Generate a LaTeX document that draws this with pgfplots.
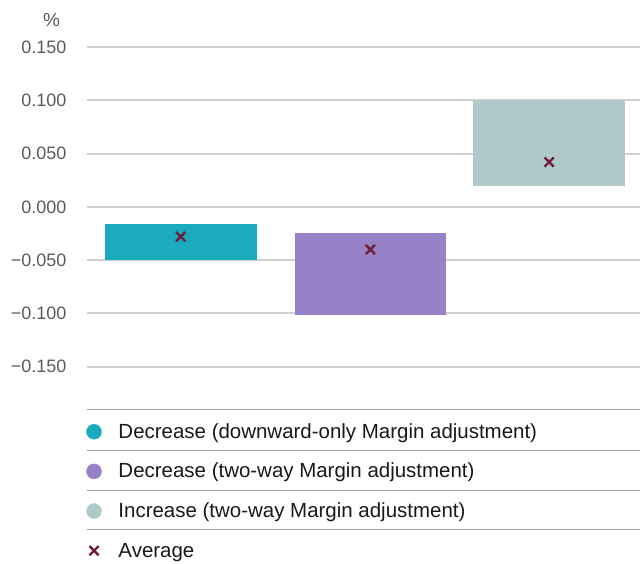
\documentclass[border=0pt]{standalone}
\usepackage{pgfplots}
\pgfplotsset{compat=1.18}
\usepackage{fontspec}
\setmainfont{Liberation Sans}
\definecolor{cteal}{HTML}{1AABBF}
\definecolor{cpurple}{HTML}{9782C8}
\definecolor{cgrey}{HTML}{B0C9C9}
\definecolor{cmaroon}{HTML}{6E1F3B}
\definecolor{cgrid}{HTML}{D0D0D0}
\definecolor{ctick}{HTML}{5A5A5A}
\definecolor{csep}{HTML}{A0A0A0}
\begin{document}
\begin{tikzpicture}[x=1pt,y=1pt]
\begin{axis}[
  scale only axis,
  width=554pt, height=363pt,
  xmin=0, xmax=554,
  ymin=-0.190, ymax=0.150,
  clip=false,
  axis line style={draw=none},
  xtick=\empty,
  ytick={-0.15,-0.1,-0.05,0,0.05,0.1,0.15},
  yticklabels={−0.150,−0.100,−0.050,0.000,0.050,0.100,0.150},
  ytick style={draw=none},
  yticklabel style={font=\fontsize{18}{20}\selectfont, text=ctick, anchor=east, xshift=-17pt},
  ymajorgrids,
  grid style={cgrid, line width=2pt},
  legend style={at={(axis description cs:-0.0009,-0.0405)}, anchor=north west,
    draw=none, fill=none, inner sep=0pt, column sep=17pt, row sep=21.7pt,
    font=\fontsize{20.5}{22}\selectfont,
    nodes={inner sep=0pt, text height=14pt, text depth=4pt, text=black!90}},
  legend image post style={yshift=1.5pt},
  legend cell align=left,
]
% floating bars
\addplot[draw=none, fill=cteal, forget plot] coordinates {(18,-0.050) (170,-0.050) (170,-0.016) (18,-0.016)} -- cycle;
\addplot[draw=none, fill=cpurple, forget plot] coordinates {(208,-0.101) (360,-0.101) (360,-0.025) (208,-0.025)} -- cycle;
\addplot[draw=none, fill=cgrey, forget plot] coordinates {(387,0.020) (539,0.020) (539,0.100) (387,0.100)} -- cycle;
% legend images
\addlegendimage{only marks, mark=*, mark size=7.5pt, color=cteal, mark options={draw=cteal, fill=cteal}}
\addlegendentry{Decrease (downward-only Margin adjustment)}
\addlegendimage{only marks, mark=*, mark size=7.5pt, color=cpurple, mark options={draw=cpurple, fill=cpurple}}
\addlegendentry{Decrease (two-way Margin adjustment)}
\addlegendimage{only marks, mark=*, mark size=7.5pt, color=cgrey, mark options={draw=cgrey, fill=cgrey}}
\addlegendentry{Increase (two-way Margin adjustment)}
% averages
\addplot[only marks, mark=x, mark size=6.5pt, line width=2.4pt, color=cmaroon] coordinates {(94,-0.028) (284,-0.040) (463,0.042)};
\addlegendentry{Average}
% legend separators
\draw[csep, line width=1.2pt] (axis description cs:0,0) -- (axis description cs:1,0);
\draw[csep, line width=1.2pt] (axis description cs:0,-0.1129) -- (axis description cs:1,-0.1129);
\draw[csep, line width=1.2pt] (axis description cs:0,-0.2231) -- (axis description cs:1,-0.2231);
\draw[csep, line width=1.2pt] (axis description cs:0,-0.3306) -- (axis description cs:1,-0.3306);
% percent label
\node[anchor=east, font=\fontsize{19}{20}\selectfont, text=ctick] at (axis description cs:-0.042,1.074) {\%};
% bounding box
\path (axis description cs:-0.157,-0.4242) rectangle (axis description cs:1,1.1295);
\end{axis}
\end{tikzpicture}
\end{document}
